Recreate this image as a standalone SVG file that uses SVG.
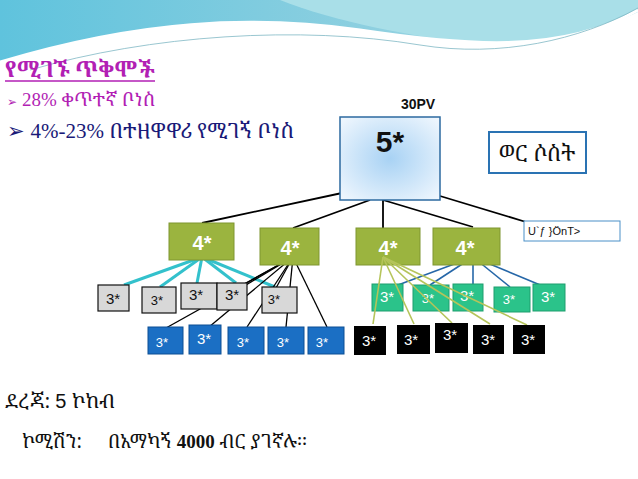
<svg xmlns="http://www.w3.org/2000/svg" width="638" height="479" viewBox="0 0 638 479">
<defs>
<linearGradient id="wave" x1="0" y1="0" x2="1" y2="0"><stop offset="0" stop-color="#5fc3dd"/><stop offset="0.6" stop-color="#8fd0e0"/><stop offset="1" stop-color="#b4e3ea"/></linearGradient>
<radialGradient id="g5" cx="0.5" cy="0.5" r="0.7"><stop offset="0" stop-color="#a8d2f4"/><stop offset="1" stop-color="#f2f8fe"/></radialGradient>
<style>
.t{font-family:"Liberation Sans",Arial,sans-serif}
.e{font-family:"Noto Serif Ethiopic","Abyssinica SIL","Noto Sans Ethiopic","Liberation Serif",serif}
.g4{fill:#9bb43f;stroke:#7f9630;stroke-width:1}
.gr{fill:#d8d8d8;stroke:#111;stroke-width:1.2}
.bl{fill:#1b6fc4;stroke:#0d4f94;stroke-width:1}
.tl{fill:#2bc38a;stroke:#1f9e6e;stroke-width:1}
.bk{fill:#000}
.w{fill:#fff;font-size:15px}
.k{fill:#111;font-size:15px}
.ol{stroke:#b5c45a;stroke-width:1.6;fill:none}
</style>
</defs>
<rect width="638" height="479" fill="#fff"/>
<path d="M0 0H638V10C560 55 460 45 360 30 250 15 140 20 0 62Z" fill="url(#wave)"/>
<path d="M280 0C330 20 420 40 480 42 560 44 610 25 638 12V0Z" fill="#a9dfe8"/>
<path d="M0 62C140 20 250 15 360 30 460 45 560 55 638 10" fill="none" stroke="#fff" stroke-width="3"/>
<path d="M30 70C150 35 300 25 420 45 500 58 580 40 638 8" fill="none" stroke="#7fb7c4" stroke-width="0.8"/>

<text class="e" x="5" y="77" font-size="22" fill="#b21fb4" font-weight="bold">የሚገኙ ጥቅሞች</text>
<line x1="5" y1="81" x2="155" y2="81" stroke="#b21fb4" stroke-width="1.5"/>
<text class="e" x="7" y="106" font-size="19" fill="#b21fb4"><tspan font-size="12">➢</tspan> <tspan font-family="Liberation Serif,serif">28%</tspan> ቀጥተኛ ቦነስ</text>
<text class="e" x="7" y="138" font-size="21" fill="#1a1a78">➢ <tspan font-family="Liberation Serif,serif">4%-23%</tspan> በተዘዋዋሪ የሚገኝ ቦነስ</text>

<g id="connectors" fill="none">
<g stroke="#000" stroke-width="1.8">
<line x1="342" y1="193" x2="202" y2="223"/>
<line x1="370" y1="200" x2="293" y2="228"/>
<line x1="383" y1="200" x2="383" y2="228"/>
<line x1="383" y1="200" x2="473" y2="227"/>
<line x1="440" y1="196" x2="526" y2="222"/>
</g>
<g stroke="#33c1cc" stroke-width="3">
<line x1="202" y1="257" x2="124" y2="285"/>
<line x1="202" y1="257" x2="160" y2="287"/>
<line x1="202" y1="257" x2="197" y2="283"/>
<line x1="202" y1="257" x2="236" y2="283"/>
<line x1="202" y1="257" x2="275" y2="287"/>
</g>
<g stroke="#000" stroke-width="1.3">
<line x1="293" y1="257" x2="246" y2="285"/>
<line x1="293" y1="257" x2="215" y2="300"/>
<line x1="293" y1="257" x2="166" y2="328"/>
<line x1="293" y1="257" x2="209" y2="327"/>
<line x1="293" y1="257" x2="247" y2="327"/>
<line x1="293" y1="257" x2="286" y2="327"/>
<line x1="293" y1="257" x2="327" y2="327"/>
<line x1="293" y1="257" x2="276" y2="288"/>
</g>
<g stroke="#2667a8" stroke-width="1.6">
<line x1="473" y1="257" x2="398" y2="285"/>
<line x1="473" y1="257" x2="430" y2="285"/>
<line x1="473" y1="257" x2="473" y2="284"/>
<line x1="473" y1="257" x2="510" y2="287"/>
<line x1="473" y1="257" x2="545" y2="287"/>
</g>
</g>

<text class="t" x="418" y="109" font-size="14" font-weight="bold" text-anchor="middle" fill="#111">30PV</text>
<g id="n5"><rect x="340" y="117" width="100" height="83" fill="url(#g5)" stroke="#2c6aa0" stroke-width="1.5"/><text class="t" x="390" y="152" font-size="30" font-weight="bold" text-anchor="middle" fill="#111">5*</text></g>
<g id="nmonth"><rect x="489" y="132" width="97" height="41" fill="#fff" stroke="#2a73b3" stroke-width="2"/><text class="e" x="537" y="161" font-size="22" text-anchor="middle" fill="#111">ወር ሶስት</text></g>
<g id="nlabel"><rect x="524" y="221" width="96" height="20" fill="#fff" stroke="#4a90c8" stroke-width="1"/><text class="t" x="528" y="235" font-size="11" fill="#111">U`ƒ }ÖnT&gt;</text></g>

<g id="n4a"><rect class="g4" x="169" y="223" width="65" height="37"/><text class="t w" x="202" y="250" text-anchor="middle" style="font-size:20px;font-weight:bold">4*</text></g>
<g id="n4b"><rect class="g4" x="260" y="228" width="59" height="37"/><text class="t w" x="290" y="255" text-anchor="middle" style="font-size:20px;font-weight:bold">4*</text></g>
<g id="n4c"><rect class="g4" x="356" y="228" width="64" height="37"/><text class="t w" x="388" y="255" text-anchor="middle" style="font-size:20px;font-weight:bold">4*</text></g>
<g id="n4d"><rect class="g4" x="433" y="228" width="67" height="37"/><text class="t w" x="465" y="255" text-anchor="middle" style="font-size:20px;font-weight:bold">4*</text></g>

<g id="gray">
<g id="g1"><rect class="gr" x="98" y="285" width="31" height="26"/><text class="t k" x="113" y="304" text-anchor="middle">3*</text></g>
<g id="g2"><rect class="gr" x="142" y="287" width="34" height="26"/><text class="t k" x="157" y="305" text-anchor="middle" style="font-size:13px">3*</text></g>
<g id="g3"><rect class="gr" x="181" y="283" width="36" height="26"/><text class="t k" x="196" y="300" text-anchor="middle">3*</text></g>
<g id="g4"><rect class="gr" x="217" y="283" width="30" height="27"/><text class="t k" x="232" y="300" text-anchor="middle">3*</text></g>
<g id="g5"><rect class="gr" x="262" y="287" width="35" height="26"/><text class="t k" x="274" y="304" text-anchor="middle" style="font-size:13px">3*</text></g>
</g>
<g id="blue">
<g id="b1"><rect class="bl" x="148" y="327" width="35" height="27"/><text class="t w" x="162" y="347" text-anchor="middle" style="font-size:13px">3*</text></g>
<g id="b2"><rect class="bl" x="189" y="325" width="32" height="29"/><text class="t w" x="204" y="344" text-anchor="middle">3*</text></g>
<g id="b3"><rect class="bl" x="228" y="327" width="36" height="27"/><text class="t w" x="243" y="347" text-anchor="middle" style="font-size:13px">3*</text></g>
<g id="b4"><rect class="bl" x="268" y="327" width="36" height="27"/><text class="t w" x="283" y="347" text-anchor="middle" style="font-size:13px">3*</text></g>
<g id="b5"><rect class="bl" x="308" y="327" width="36" height="27"/><text class="t w" x="322" y="347" text-anchor="middle" style="font-size:13px">3*</text></g>
</g>
<g id="teal">
<g id="t1"><rect class="tl" x="372" y="284" width="31" height="27"/><text class="t w" x="387" y="302" text-anchor="middle">3*</text></g>
<g id="t2"><rect class="tl" x="413" y="285" width="36" height="26"/><text class="t w" x="428" y="303" text-anchor="middle" style="font-size:13px">3*</text></g>
<g id="t3"><rect class="tl" x="453" y="284" width="30" height="27"/><text class="t w" x="467" y="301" text-anchor="middle">3*</text></g>
<g id="t4"><rect class="tl" x="494" y="287" width="36" height="25"/><text class="t w" x="509" y="304" text-anchor="middle" style="font-size:13px">3*</text></g>
<g id="t5"><rect class="tl" x="533" y="284" width="32" height="27"/><text class="t w" x="548" y="302" text-anchor="middle">3*</text></g>
</g>
<g id="connectors-olive">
<line class="ol" x1="383" y1="257" x2="373" y2="324"/>
<line class="ol" x1="383" y1="257" x2="414" y2="324"/>
<line class="ol" x1="383" y1="257" x2="452" y2="323"/>
<line class="ol" x1="383" y1="257" x2="490" y2="324"/>
<line class="ol" x1="383" y1="257" x2="527" y2="325"/>
</g>
<g id="black">
<g id="k1"><rect class="bk" x="354" y="326" width="32" height="29"/><text class="t w" x="369" y="346" text-anchor="middle">3*</text></g>
<g id="k2"><rect class="bk" x="397" y="325" width="33" height="29"/><text class="t w" x="411" y="345" text-anchor="middle">3*</text></g>
<g id="k3"><rect class="bk" x="435" y="323" width="33" height="30"/><text class="t w" x="450" y="340" text-anchor="middle">3*</text></g>
<g id="k4"><rect class="bk" x="473" y="325" width="31" height="29"/><text class="t w" x="488" y="345" text-anchor="middle">3*</text></g>
<g id="k5"><rect class="bk" x="513" y="325" width="32" height="29"/><text class="t w" x="528" y="345" text-anchor="middle">3*</text></g>
</g>

<text class="e" x="5" y="408" font-size="20" fill="#111">ደረጃ: <tspan class="t">5</tspan> ኮከብ</text>
<text class="e" x="22" y="448" font-size="19" fill="#111">ኮሚሽን:<tspan x="108">በአማካኝ</tspan> <tspan font-weight="bold" font-family="Liberation Serif,serif">4000</tspan> ብር ያገኛሉ፡፡</text>
</svg>
